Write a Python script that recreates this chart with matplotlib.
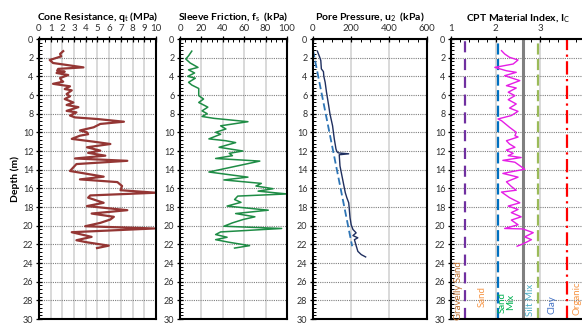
#!/usr/bin/env python
# coding: utf-8

import numpy as np
import matplotlib.pyplot as plt
from matplotlib.ticker import (AutoMinorLocator, MultipleLocator, FixedLocator)

plt.rcParams['font.family'] = ['Lato', 'DejaVu Sans']
plt.rcParams['mathtext.fontset'] = 'custom'
plt.rcParams['mathtext.rm'] = 'Lato'
plt.rcParams['mathtext.it'] = 'Lato'
plt.rcParams['mathtext.bf'] = 'Lato:bold'

# Cone resistance qt (MPa) vs depth (m)
qt_depth = [1.3, 1.6, 1.86, 2.25, 2.57, 3.04, 3.2, 3.4, 3.5, 3.64, 3.86, 4.18, 4.46, 4.57, 4.8,
            5.07, 5.36, 5.5, 5.9, 6.14, 6.43, 6.8, 7.07, 7.3, 7.7, 7.86, 8.2, 8.4, 8.57, 8.86,
            9.1, 9.46, 9.8, 10.0, 10.2, 10.36, 10.7, 11.0, 11.25, 11.6, 11.96, 12.2, 12.5, 12.8,
            13.05, 13.4, 14.14, 14.75, 15.04, 15.33, 15.75, 16.2, 16.47, 16.76, 17.0, 17.55,
            17.9, 18.34, 18.7, 19.05, 19.34, 19.7, 20.06, 20.3, 20.7, 21.2, 21.56, 21.78, 22.14, 22.4]
qt_val = [2.07, 1.8, 1.9, 0.92, 1.2, 3.8, 1.64, 1.55, 2.2, 1.5, 2.5, 1.8, 1.93, 2.07, 1.2,
          2.65, 2.2, 2.8, 2.36, 2.65, 2.2, 2.94, 2.36, 3.37, 2.36, 3.2, 2.65, 3.08, 4.96, 7.26,
          5.24, 4.67, 3.5, 4.1, 4.2, 3.5, 2.8, 4.67, 6.1, 4.1, 5.24, 4.2, 5.67, 3.08,
          7.55, 3.2, 2.65, 5.53, 3.5, 6.7, 7.1, 6.97, 10.0, 4.38, 4.2, 5.53,
          4.1, 7.55, 4.5, 6.4, 6.1, 5.24, 3.95, 9.86, 2.8, 4.5, 3.2, 4.1, 5.96, 4.96]

# Sleeve friction fs (kPa)
fs_depth = [1.3, 1.8, 2.14, 2.57, 3.04, 3.3, 3.64, 4.0, 4.2, 4.64, 4.93, 5.3, 6.07, 6.43, 6.8,
            7.3, 7.7, 8.0, 8.3, 8.5, 8.86, 9.3, 9.64, 10.0, 10.2, 10.7, 10.9, 11.1, 11.6, 12.0,
            12.25, 12.5, 12.8, 13.08, 14.25, 14.8, 15.1, 15.47, 15.75, 16.04, 16.3, 16.6, 16.83,
            17.2, 17.5, 17.9, 18.34, 18.7, 19.05, 19.34, 19.7, 20.06, 20.3, 20.67, 20.95, 21.24,
            21.5, 21.78, 22.14, 22.4]
fs_val = [11, 8, 5.4, 9.5, 16.8, 8, 13.6, 7.3, 14.3, 8, 11, 17.5, 17.5, 22, 17.5,
          26, 20.6, 25.4, 20.6, 31.7, 63.5, 38, 42.9, 33.3, 38, 27, 42.9, 52, 36.5, 58.7,
          46, 49, 33.3, 74.6, 27, 63.5, 41, 76, 71, 87, 73, 100, 54,
          51, 57, 44, 82.5, 52, 70, 59, 49, 41, 95, 38, 33.3, 44,
          33.3, 46, 65, 51]

# Pore pressure u2 (kPa)
u2_depth = [1.3, 1.96, 2.3, 3.2, 3.5, 4.0, 4.64, 5.7, 7.07, 8.0, 9.3, 10.7, 11.8, 12.07, 12.2,
            12.3, 12.4, 13.6, 15.04, 16.47, 17.0, 17.55, 19.16, 19.9, 20.4, 20.77, 21.06, 21.3,
            21.5, 22.14, 22.75, 23.1, 23.35]
u2_val = [23, 35.5, 41, 44, 55, 57, 64, 71, 82, 89, 103, 112, 121, 126, 133,
          188, 138, 142, 156, 170, 178, 188, 195, 201, 210, 227, 210, 236,
          218, 227, 236, 254, 277]
# hydrostatic line
u0_depth = [1.2, 22.2]
u0_val = [0, 206]

# Material index Ic
ic_depth = [1.25, 1.6, 1.96, 2.25, 2.68, 3.04, 3.4, 3.57, 3.93, 4.46, 5.0, 5.25, 5.7, 6.07, 6.5,
            6.96, 7.4, 7.75, 8.2, 8.57, 8.75, 9.46, 10.0, 10.36, 10.5, 10.9, 11.25, 11.6, 11.9,
            12.25, 12.5, 12.7, 13.0, 13.2, 13.95, 14.4, 14.8, 15.3, 15.8, 16.2, 16.4, 17.0,
            17.55, 17.9, 18.26, 18.6, 19.05, 19.4, 19.9, 20.3, 20.35, 20.75, 21.2, 21.5, 21.95, 22.2]
ic_val = [2.13, 2.2, 2.31, 2.5, 2.39, 1.98, 2.24, 2.46, 2.2, 2.54, 2.24, 2.46, 2.28, 2.43, 2.28,
          2.46, 2.31, 2.5, 2.35, 2.05, 2.13, 2.31, 2.46, 2.43, 2.5, 2.24, 2.31, 2.43, 2.24,
          2.39, 2.28, 2.57, 2.16, 2.43, 2.65, 2.16, 2.5, 2.24, 2.35, 2.46, 2.13, 2.31,
          2.54, 2.28, 2.5, 2.35, 2.57, 2.35, 2.5, 2.2, 2.61, 2.84, 2.65, 2.8, 2.61, 2.48]

# soil type boundaries and zone names
bound_ic = [1.31, 2.05, 2.60, 2.95, 3.60]
bound_col = ['#7030A0', '#0070C0', '#808080', '#9BBB59', '#FF0000']
bound_ls = [(0, (5, 3)), (0, (5, 2)), '-', (0, (5, 2)), (0, (6, 2, 1, 2))]
zone_names = ['Gravelly Sand', 'Sand', 'Sand\nMix', 'Silt Mix', 'Clay', 'Organic']
zone_x = [1.16, 1.69, 2.24, 2.78, 3.26, 3.82]
zone_y = [27.0, 27.6, 28.2, 28.0, 28.5, 27.8]
zone_col = ['#C0702F', '#F79646', '#00B050', '#4BACC6', '#4472C4', '#F79646']

fig = plt.figure(figsize=(5.82, 3.24), dpi=100)
bot, h = 0.0154, 0.8642
ax1 = fig.add_axes([0.067, bot, 0.201, h])
ax2 = fig.add_axes([0.3093, bot, 0.1838, h])
ax3 = fig.add_axes([0.5378, bot, 0.1959, h])
ax4 = fig.add_axes([0.775, bot, 0.2302, h])

def style(ax, xlim, major, nminor, title):
    ax.set_xlim(*xlim)
    ax.set_ylim(30, 0)
    ax.xaxis.tick_top()
    ax.xaxis.set_major_locator(MultipleLocator(major))
    ax.xaxis.set_minor_locator(AutoMinorLocator(nminor))
    ax.yaxis.set_major_locator(MultipleLocator(2))
    ax.yaxis.set_minor_locator(AutoMinorLocator(5))
    ax.tick_params(which='major', direction='inout', length=4, width=0.9, labelsize=7,
                   pad=2, colors='k')
    ax.tick_params(which='minor', direction='in', length=2, width=0.7)
    ax.tick_params(axis='x', labelcolor='#303030')
    ax.tick_params(axis='y', labelcolor='#303030', labelsize=6.5)
    ax.set_axisbelow(True)
    ax.grid(axis='x', which='major', color='#D9D9D9', lw=1.4)
    ax.grid(axis='y', which='major', color='#7F7F7F', lw=0.8, linestyle=(0, (1, 1)))
    for s in ax.spines.values():
        s.set_linewidth(1.5)
    ax.set_title(title, fontsize=7.5, fontweight='bold', pad=3)

style(ax1, (0, 10), 1, 2, 'Cone Resistance, q$_t$ (MPa)')
ax1.plot(qt_val, qt_depth, color='#943634', lw=1.6)
ax1.set_ylabel('Depth (m)', fontsize=7.5, fontweight='bold', labelpad=2)

style(ax2, (0, 100), 20, 4, 'Sleeve Friction, f$_s$  (kPa)')
ax2.plot(fs_val, fs_depth, color='#1E8C45', lw=1.1)

style(ax3, (0, 600), 200, 4, 'Pore Pressure, u$_2$  (kPa)')
ax3.plot(u0_val, u0_depth, color='#2E75B6', lw=1.3, linestyle=(0, (4, 2)))
ax3.plot(u2_val, u2_depth, color='#1F2F5F', lw=1.0)

style(ax4, (1, 4), 1, 5, 'CPT Material Index, I$_C$')
ax4.xaxis.set_major_locator(FixedLocator([1, 2, 3]))
ax4.spines['right'].set_visible(False)
for xb, c, ls in zip(bound_ic, bound_col, bound_ls):
    ax4.axvline(xb, color=c, linestyle=ls, lw=1.6 if ls != '-' else 2.2)
ax4.plot(ic_val, ic_depth, color='#E51EE5', lw=1.0)
for name, x, y, c in zip(zone_names, zone_x, zone_y, zone_col):
    ax4.text(x, y, name, rotation=90, color=c, fontsize=7, ha='center', va='center',
             linespacing=0.9)

fig.savefig('out.png', dpi=100)
